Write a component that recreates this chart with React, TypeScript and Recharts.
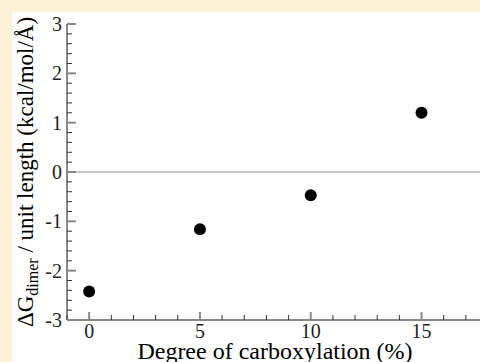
import { ScatterChart, Scatter, XAxis, YAxis, ReferenceLine } from "recharts";

// carboxylation degree (%) and dimerization free energy per unit length
const degrees = [0, 5, 10, 15];
const dgDimer = [-2.42, -1.16, -0.47, 1.2];

const xTicks = [-1, 0, 1, 2, 3, 4, 5, 6, 7, 8, 9, 10, 11, 12, 13, 14, 15, 16, 17, 18];
const xLabels = [0, 5, 10, 15];
const yTicks = [
  -3, -2.8, -2.6, -2.4, -2.2, -2, -1.8, -1.6, -1.4, -1.2, -1, -0.8, -0.6, -0.4, -0.2, 0,
  0.2, 0.4, 0.6, 0.8, 1, 1.2, 1.4, 1.6, 1.8, 2, 2.2, 2.4, 2.6, 2.8, 3,
];
const yLabels = [-3, -2, -1, 0, 1, 2, 3];

const data = degrees.map((d, i) => ({ x: d, y: dgDimer[i] }));

const FONT = '"Liberation Serif", "Times New Roman", serif';

const isLabel = (list: number[], v: number) => list.some((l) => Math.abs(l - v) < 1e-6);

const BottomTick = (props: any) => {
  const { x, y, payload } = props;
  const major = isLabel(xLabels, payload.value);
  return (
    <g>
      <line
        x1={x} x2={x} y1={y} y2={y - (major ? 8 : 5)}
        stroke={major ? "#888" : "#333"} strokeWidth={major ? 2 : 1}
      />
      {major && (
        <text x={x} y={y + 18} textAnchor="middle" fontSize={20} fontFamily={FONT} fill="#222">
          {payload.value}
        </text>
      )}
    </g>
  );
};

const TopTick = (props: any) => {
  const { x, y, payload } = props;
  const major = isLabel(xLabels, payload.value);
  return (
    <line
      x1={x} x2={x} y1={y} y2={y + (major ? 8 : 5)}
      stroke={major ? "#888" : "#333"} strokeWidth={major ? 2 : 1}
    />
  );
};

const LeftTick = (props: any) => {
  const { x, y, payload } = props;
  const major = isLabel(yLabels, payload.value);
  return (
    <g>
      <line
        x1={x} x2={x + (major ? 9 : 5)} y1={y} y2={y}
        stroke={major ? "#888" : "#333"} strokeWidth={major ? 2 : 1}
      />
      {major && (
        <text x={x - 5} y={y + 7} textAnchor="end" fontSize={20} fontFamily={FONT} fill="#222">
          {payload.value}
        </text>
      )}
    </g>
  );
};

const YTitle = () => (
  <text
    x={21} y={160} transform="rotate(-90, 21, 160)" textAnchor="middle"
    fontSize={23} fontFamily={FONT} fill="#000"
  >
    ΔG
    <tspan dy={5} fontSize={16}>dimer</tspan>
    <tspan dy={-5}> / unit length (kcal/mol/Å)</tspan>
  </text>
);

const XTitle = () => (
  <text x={263} y={347} textAnchor="middle" fontSize={24} fontFamily={FONT} fill="#000">
    Degree of carboxylation (%)
  </text>
);

export default function App() {
  return (
    <div
      style={{
        position: "absolute", left: 0, top: 0, width: 480, height: 362,
        background: "#fdf2d6", overflow: "hidden",
      }}
    >
      <div
        style={{
          position: "absolute", left: 12, top: 12, width: 468, height: 350,
          background: "#fff", overflow: "hidden",
        }}
      >
        <ScatterChart width={480} height={350} margin={{ top: 12, right: 4, bottom: 12, left: 0 }}>
          <XAxis
            dataKey="x" type="number" domain={[-1, 18]} ticks={xTicks} interval={0}
            allowDataOverflow height={30} tickSize={0} tickMargin={0} tickLine={false}
            axisLine={{ stroke: "#888", strokeWidth: 2 }} tick={<BottomTick />}
            label={{ content: () => <XTitle /> }}
          />
          <XAxis
            xAxisId="top" orientation="top" type="number" domain={[-1, 18]} ticks={xTicks}
            interval={0} allowDataOverflow height={0} tickSize={0} tickMargin={0} tickLine={false}
            axisLine={{ stroke: "#888", strokeWidth: 2 }} tick={<TopTick />}
          />
          <YAxis
            dataKey="y" type="number" domain={[-3, 3]} ticks={yTicks} interval={0}
            allowDataOverflow width={55} tickSize={0} tickMargin={0} tickLine={false}
            axisLine={{ stroke: "#888", strokeWidth: 2 }} tick={<LeftTick />}
            label={{ content: () => <YTitle /> }}
          />
          <ReferenceLine y={0} stroke="#c8c8c8" strokeWidth={2} />
          <Scatter
            data={data} isAnimationActive={false}
            shape={(p: any) => <circle cx={p.cx} cy={p.cy} r={6} fill="#000" />}
          />
        </ScatterChart>
      </div>
    </div>
  );
}
